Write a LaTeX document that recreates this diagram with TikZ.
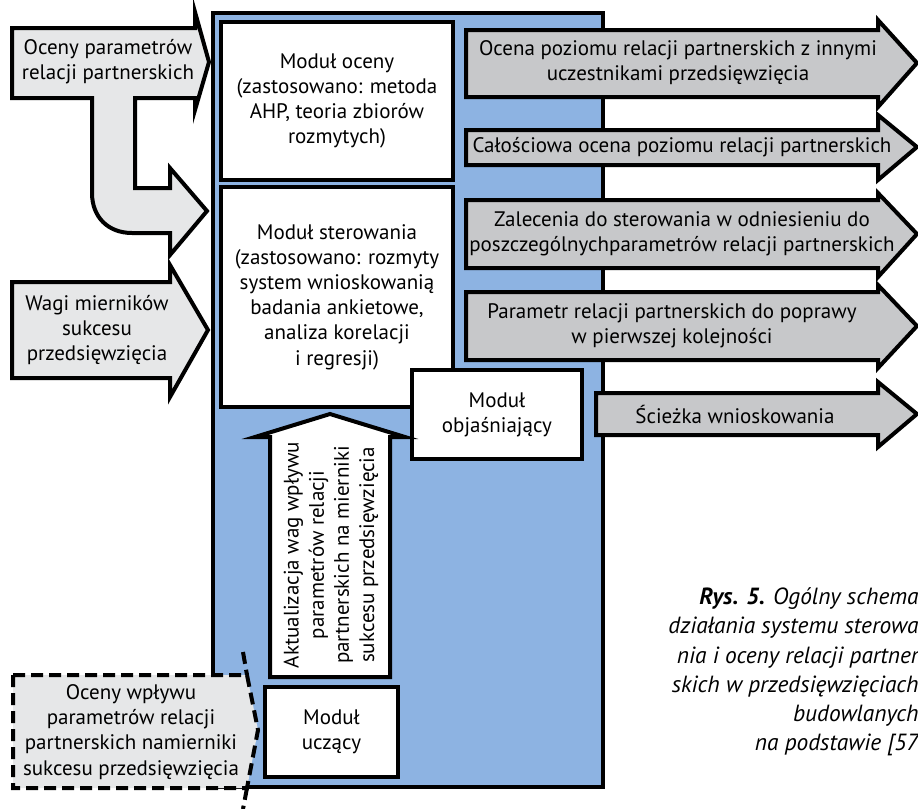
\documentclass[tikz,border=0pt]{standalone}
\usepackage{fontspec}
\setmainfont{PT Sans}
\definecolor{sysblue}{HTML}{8DB3E2}
\definecolor{ingray}{HTML}{E6E7E8}
\definecolor{outgray}{HTML}{C7C8CA}

\begin{document}
\begin{tikzpicture}[x = 0.5pt, y = -0.5pt]
\tikzstyle{ModulStyle}=[shape = rectangle,
                        draw,
                        fill = white,
                        line width = 2pt,
                        inner sep = 0pt,
                        align = center,
                        font = \fontsize{10.5}{12.6}\selectfont]
\tikzstyle{ArrowStyle}=[draw, line width = 2pt, line join = miter]
\tikzstyle{LabelStyle}=[align = center, inner sep = 0pt,
                        font = \fontsize{10.5}{12.6}\selectfont]
\useasboundingbox (0,0) rectangle (918,809);
% system
\node[draw, line width = 2pt, fill = sysblue, minimum width = 195pt,
      minimum height = 387pt, inner sep = 0pt] (s0) at (408,400) {};
\node[ModulStyle, minimum width = 116pt, minimum height = 79pt] (m0) at (337,101)
  {Moduł oceny\\ (zastosowano: metoda\\ AHP, teoria zbiorów\\ rozmytych)};
\node[ModulStyle, minimum width = 116pt, minimum height = 110pt] (m1) at (337,297)
  {Moduł sterowania\\(zastosowano: rozmyty\\system wnioskowanią\\ badania ankietowe,\\analiza korelacji\\i regresji)};
\node[ModulStyle, minimum width = 85pt, minimum height = 44.5pt] (m2) at (497,414.5)
  {Moduł\\objaśniający};
% input arrows
\draw[ArrowStyle, fill = ingray] (12,28) -- (195,28) -- (195,12) -- (209,62) -- (195,110)
  -- (195,98) -- (135,98) -- (135,188) -- (170,188) -- (170,168) -- (207,211) -- (170,255)
  -- (170,233) -- (132,233) .. controls (108,233) and (92,217) .. (92,193) -- (92,98)
  -- (12,98) -- cycle;
\node[LabelStyle] (i0) at (108,62) {Oceny parametrów\\relacji partnerskich};
\draw[ArrowStyle, fill = ingray] (12,282) -- (170,282) -- (170,265) -- (208,330)
  -- (170,397) -- (170,378) -- (12,378) -- cycle;
\node[LabelStyle] (i1) at (97,330) {Wagi mierników\\sukcesu\\przedsięwzięcia};
% learning
\draw[ArrowStyle, fill = white] (270,677) -- (270,437) -- (255,437) -- (330,414)
  -- (405,437) -- (390,437) -- (390,677) -- cycle;
\node[LabelStyle, rotate = 90] (u0) at (331,555)
  {Aktualizacja wag wpływu\\parametrów relacji\\partnerskich na mierniki\\sukcesu przedsięwzięcia};
\node[ModulStyle, minimum width = 66.5pt, minimum height = 45pt] (m3) at (331.5,732)
  {Moduł\\uczący};
\draw[ArrowStyle, dash pattern = on 6pt off 3pt, fill = ingray] (13,675) -- (247,675)
  -- (258,730) -- (247,788) -- (13,788) -- cycle;
\draw[ArrowStyle, dash pattern = on 6pt off 3pt] (243,652) -- (247,675);
\draw[ArrowStyle, dash pattern = on 6pt off 3pt] (247,788) -- (243,809);
\node[LabelStyle] (i2) at (131,732)
  {Oceny wpływu\\parametrów relacji\\partnerskich namierniki\\sukcesu przedsięwzięcia};
% output arrows
\draw[ArrowStyle, fill = outgray] (466,30) -- (878,30) -- (878,20) -- (917,63)
  -- (878,107) -- (878,97) -- (466,97) -- cycle;
\node[LabelStyle] (o0) at (678,63) {Ocena poziomu relacji partnerskich z innymi\\uczestnikami przedsięwzięcia};
\draw[ArrowStyle, fill = outgray] (466,130) -- (878,130) -- (878,115) -- (917,147)
  -- (878,180) -- (878,165) -- (466,165) -- cycle;
\node[LabelStyle] (o1) at (682,147) {Całościowa ocena poziomu relacji partnerskich};
\draw[ArrowStyle, fill = outgray] (466,200) -- (878,200) -- (878,193) -- (917,234)
  -- (878,277) -- (878,268) -- (466,268) -- cycle;
\node[LabelStyle] (o2) at (682,234) {Zalecenia do sterowania w odniesieniu do\\poszczególnychparametrów relacji partnerskich};
\draw[ArrowStyle, fill = outgray] (466,292) -- (878,292) -- (878,285) -- (917,326)
  -- (878,368) -- (878,360) -- (466,360) -- cycle;
\node[LabelStyle] (o3) at (672,326) {Parametr relacji partnerskich do poprawy\\w pierwszej kolejności};
\draw[ArrowStyle, fill = outgray] (596,393) -- (878,393) -- (878,382) -- (917,414)
  -- (878,447) -- (878,435) -- (596,435) -- cycle;
\node[LabelStyle] (o4) at (735,414) {Ścieżka wnioskowania};
% caption
\node[align = right, inner sep = 0pt, anchor = east,
      font = \fontsize{11.7}{14.6}\selectfont\itshape] (c0) at (919,672)
  {\textbf{Rys. 5.} Ogólny schema\\działania systemu sterowa\\nia i oceny relacji partner\\skich w przedsięwzięciach\\budowlanych\\na podstawie [57};
\end{tikzpicture}
\end{document}
